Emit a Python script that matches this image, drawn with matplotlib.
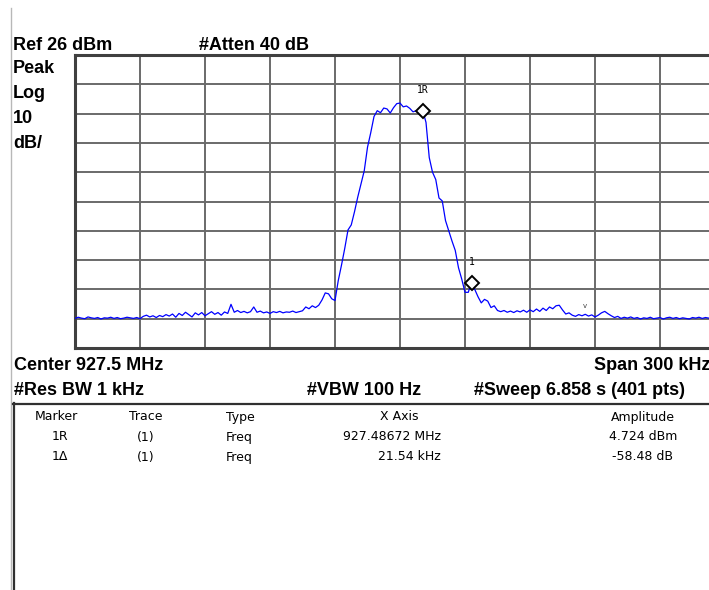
import numpy as np
import matplotlib.pyplot as plt
from matplotlib.lines import Line2D

# ANALYZER SETTINGS
center_mhz = 927.5
span_khz = 300.0
ref_dbm = 26.0
db_per_div = 10.0

# TRACE (read every 2nd sweep point, 1.5 kHz apart, from left edge)
step_khz = 1.5
trace_dbm = [
    -63.9, -63.5, -63.8, -64.0, -63.4, -63.7, -63.9, -63.6, -64.1, -63.7,
    -63.8, -63.5, -63.9, -63.6, -64.0, -63.8, -63.5, -63.7, -63.9, -63.6,
    -64.0, -63.2, -62.8, -63.4, -63.0, -63.6, -62.9, -63.3, -62.6, -63.1,
    -62.4, -63.5, -62.2, -62.9, -61.8, -62.6, -63.4, -62.0, -62.7, -61.9,
    -63.0, -62.3, -61.6, -62.5, -61.9, -62.8, -61.7, -62.2, -59.1, -61.8,
    -61.2, -61.9, -61.5, -62.0, -61.6, -60.0, -61.8, -61.4, -62.0, -61.7,
    -62.2, -61.6, -61.9, -61.5, -62.0, -61.7, -61.8, -61.4, -61.9, -61.6,
    -61.3, -60.0, -60.6, -59.6, -60.2, -59.4, -57.6, -55.2, -55.5, -57.2,
    -57.8, -51.0, -45.7, -40.0, -33.7, -32.0, -27.5, -22.5, -18.0, -13.5,
    -5.5, -0.5, 5.0, 7.0, 6.3, 7.9, 7.6, 6.2, 8.0, 9.4,
    9.6, 8.3, 8.6, 7.8, 6.6, 7.0, 6.1, 7.0, 3.0, -9.0,
    -14.0, -16.5, -22.8, -23.8, -30.5, -34.0, -37.5, -40.7, -46.6, -50.5,
    -55.0, -55.0, -51.7, -54.0, -56.5, -58.6, -57.4, -58.0, -60.2, -59.6,
    -61.2, -61.6, -61.2, -61.8, -61.4, -61.9, -61.3, -61.7, -61.1, -61.8,
    -61.0, -61.6, -60.7, -61.5, -60.4, -61.2, -60.0, -60.6, -59.6, -59.4,
    -61.0, -62.4, -62.0, -62.8, -63.2, -62.6, -63.0, -62.5, -63.1, -62.7,
    -63.4, -62.8, -62.0, -61.5, -62.3, -63.0, -63.6, -63.2, -63.9, -63.5,
    -63.8, -63.4, -63.9, -63.6, -64.1, -63.7, -63.9, -63.5, -64.0, -63.8,
    -63.6, -64.1, -63.7, -63.5, -63.9, -63.6, -64.0, -63.7, -63.9, -64.1,
    -63.6, -63.8, -63.5, -63.9, -63.6, -63.8, -63.7,
]

# MARKERS (index into trace)
marker_idx = [107, 122]
marker_labels = ["1R", "1"]

# MARKER TABLE
table_header = ["Marker", "Trace", "Type", "X Axis", "Amplitude"]
table_rows = [
    ["1R", "(1)", "Freq", "927.48672 MHz", "4.724 dBm"],
    ["1\u0394", "(1)", "Freq", "21.54 kHz", "-58.48 dB"],
]

W, H = 709, 590
fig = plt.figure(figsize=(W / 100, H / 100), dpi=100)


def px(x, y):
    return x / W, 1 - y / H


# plot area (right edge runs past the screenshot)
left, top, right, bottom = 75, 55, 725, 348
ax = fig.add_axes([left / W, 1 - bottom / H, (right - left) / W, (bottom - top) / H])

f0 = center_mhz - span_khz / 2000
freqs = f0 + np.arange(len(trace_dbm)) * step_khz / 1000
y_bot = ref_dbm - 10 * db_per_div

ax.plot(freqs, trace_dbm, color="#0000ff", lw=0.9, zorder=3)
ax.set_xlim(f0, f0 + span_khz / 1000)
ax.set_ylim(y_bot, ref_dbm)
ax.set_xticks(f0 + np.arange(11) * span_khz / 10000)
ax.set_yticks(y_bot + np.arange(11) * db_per_div)
ax.grid(True, color="#6a6a6a", lw=1.4)
ax.tick_params(length=0, labelbottom=False, labelleft=False)
for s in ax.spines.values():
    s.set_color("#404040")
    s.set_linewidth(2.2)

for i, lab in zip(marker_idx, marker_labels):
    ax.plot(freqs[i], trace_dbm[i], marker="D", ms=7, mfc="white", mec="black",
            mew=1.4, zorder=4)
    ax.annotate(lab, (freqs[i], trace_dbm[i]), xytext=(0, 11), textcoords="offset points",
                ha="center", va="bottom", fontsize=7, family="DejaVu Sans Mono")
ax.text(f0 + 0.2355, -60.3, "v", fontsize=5, color="#404040", ha="center")

# header texts
bold = dict(family="Liberation Sans", fontweight="bold", fontsize=13, va="baseline")
fig.text(*px(13, 50), "Ref 26 dBm", **bold)
fig.text(*px(199, 50), "#Atten 40 dB", **bold)
for k, s in enumerate(["Peak", "Log", "10", "dB/"]):
    fig.text(*px(13, 73 + 25 * k), s, **bold)
fig.text(*px(14, 370), "Center 927.5 MHz", **bold)
fig.text(*px(594, 370), "Span 300 kHz", **bold)
fig.text(*px(14, 395), "#Res BW 1 kHz", **bold)
fig.text(*px(307, 395), "#VBW 100 Hz", **bold)
fig.text(*px(474, 395), "#Sweep 6.858 s (401 pts)", **bold)

# frame lines of the screenshot
fig.add_artist(Line2D([11 / W, 11 / W], [0, 1 - 8 / H], color="#b8b8b8", lw=1.0))
fig.add_artist(Line2D([13.5 / W, 13.5 / W], [0, 1 - 403 / H], color="#303030", lw=1.6))
fig.add_artist(Line2D([13 / W, 1], [1 - 403.5 / H] * 2, color="#303030", lw=1.6))

# marker table
small = dict(family="DejaVu Sans", fontsize=9, va="center")
col_x = [56, 146, 226, 399, 643]
col_ha = ["center", "center", "left", "center", "center"]
for x, ha, s in zip(col_x, col_ha, table_header):
    fig.text(*px(x, 417), s, ha=ha, **small)
val_x = [60, 146, 226, 441, 643]
val_ha = ["center", "center", "left", "right", "center"]
for r, row in enumerate(table_rows):
    for x, ha, s in zip(val_x, val_ha, row):
        fig.text(*px(x, 437 + 20 * r), s, ha=ha, **small)

fig.savefig("out.png", dpi=100)
